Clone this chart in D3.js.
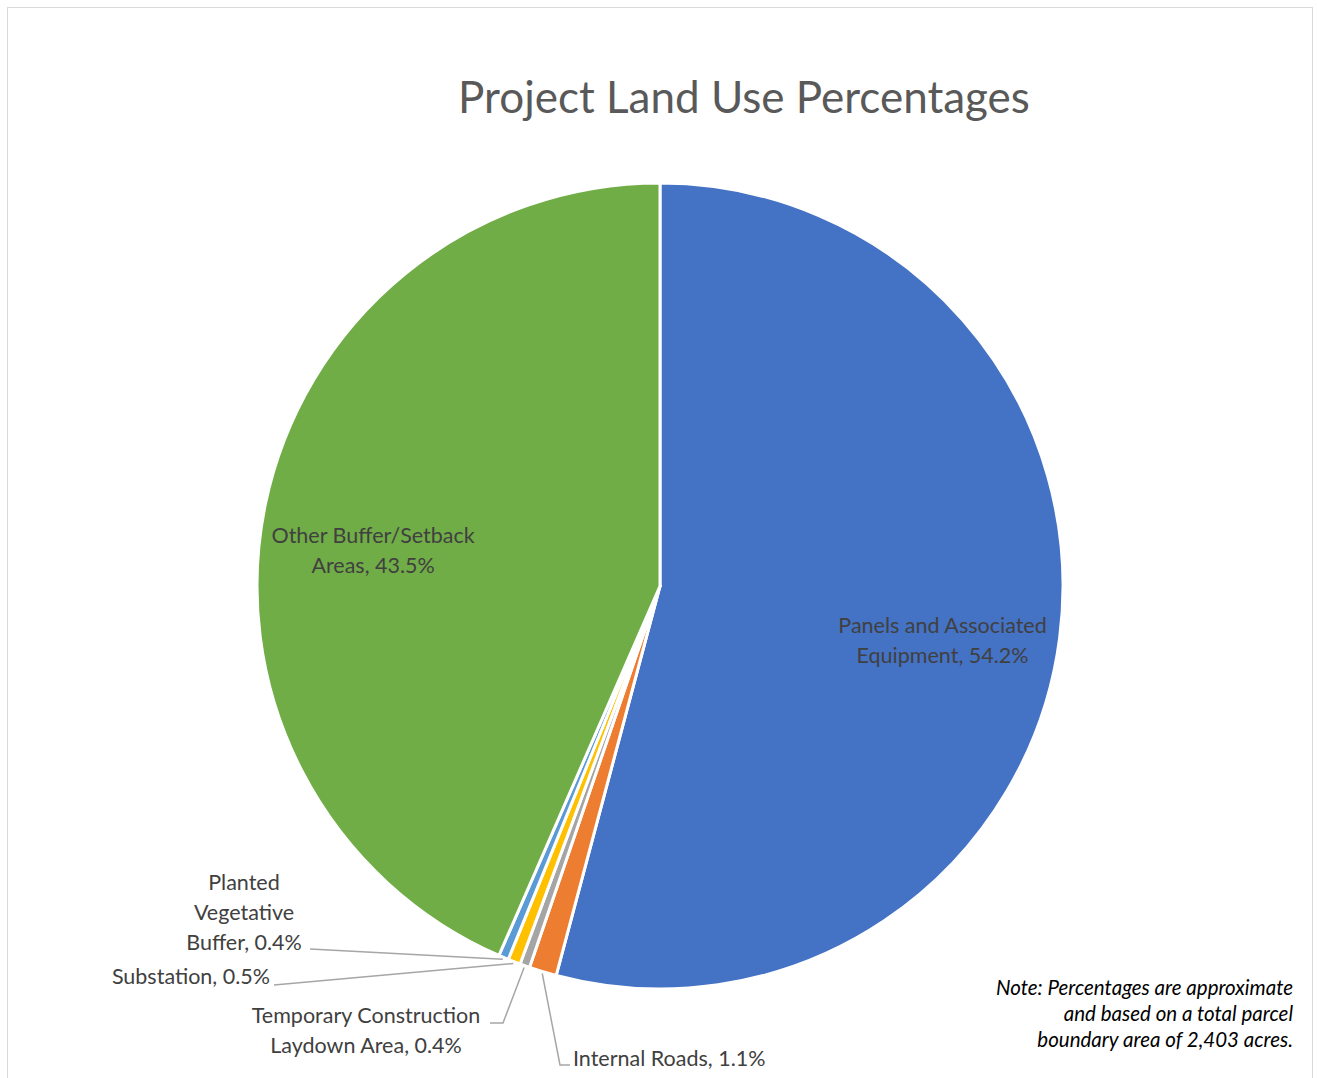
<!DOCTYPE html>
<html lang="en">
<head>
<meta charset="utf-8">
<title>Project Land Use Percentages</title>
<style>
  html, body { margin: 0; padding: 0; background: #fff; }
  text { font-family: Lato, "Open Sans", sans-serif; }
</style>
</head>
<body>
<svg width="1317" height="1078"></svg>
<script src="https://cdn.jsdelivr.net/npm/d3@7"></script>
<script>
// data
var categories = ["Panels and Associated Equipment", "Internal Roads", "Temporary Construction Laydown Area",
                  "Substation", "Planted Vegetative Buffer", "Other Buffer/Setback Areas"];
var values = [54.2, 1.1, 0.4, 0.5, 0.4, 43.5];
var labelLines = [
  ["Panels and Associated", "Equipment, 54.2%"],
  ["Internal Roads, 1.1%"],
  ["Temporary Construction", "Laydown Area, 0.4%"],
  ["Substation, 0.5%"],
  ["Planted", "Vegetative", "Buffer, 0.4%"],
  ["Other Buffer/Setback", "Areas, 43.5%"]
];
var colors = ["#4472C4", "#ED7D31", "#A5A5A5", "#FFC000", "#5B9BD5", "#70AD47"];
var noteLines = ["Note: Percentages are approximate", "and based on a total parcel", "boundary area of 2,403 acres."];

var svg = d3.select("svg"),
    cx = 660, cy = 586, radius = 403;

// chart frame
svg.append("rect")
  .attr("x", 7.5).attr("y", 7.5)
  .attr("width", 1305).attr("height", 1100)
  .attr("fill", "#fff").attr("stroke", "#D9D9D9");

svg.append("text")
  .attr("x", 744).attr("y", 113)
  .attr("text-anchor", "middle")
  .attr("font-size", 44)
  .attr("fill", "#595959")
  .text("Project Land Use Percentages");

var pie = d3.pie().sort(null).value(function(d) { return d; });
var arcs = pie(values);

var arc = d3.arc().innerRadius(0).outerRadius(radius);
var labelArc = d3.arc().innerRadius(289).outerRadius(289);
var edgeArc = d3.arc().innerRadius(radius + 2).outerRadius(radius + 2);

var g = svg.append("g").attr("transform", "translate(" + cx + "," + cy + ")");

g.selectAll("path.slice")
  .data(arcs)
  .enter().append("path")
  .attr("class", "slice")
  .attr("d", arc)
  .attr("fill", function(d, i) { return colors[i]; })
  .attr("stroke", "#fff")
  .attr("stroke-width", 3)
  .attr("stroke-linejoin", "round");

// inside labels for big slices (small nudge from centroid, like excel does)
var inside = { 0: [-4, 9], 5: [-4, 16] };
Object.keys(inside).forEach(function(key) {
  var i = +key, c = labelArc.centroid(arcs[i]);
  var t = g.append("text")
    .attr("text-anchor", "middle")
    .attr("font-size", 21.5)
    .attr("fill", "#404040");
  labelLines[i].forEach(function(s, k) {
    t.append("tspan")
      .attr("x", c[0] + inside[key][0])
      .attr("y", c[1] + inside[key][1] + k * 30)
      .text(s);
  });
});

// outside labels for small slices (page coords): text position, anchor, leader bend points
var outside = {
  1: { x: 573, y: 1066, anchor: "start", line: [[570, 1065], [560, 1065]] },
  2: { x: 366, y: 1023, anchor: "middle", line: [[490, 1023], [503, 1023]] },
  3: { x: 270, y: 984, anchor: "end", line: [[274, 985]] },
  4: { x: 244, y: 890, anchor: "middle", line: [[310, 949]] }
};

Object.keys(outside).forEach(function(key) {
  var i = +key, o = outside[key];
  var e = edgeArc.centroid(arcs[i]);
  var pts = o.line.concat([[cx + e[0], cy + e[1]]]);
  svg.append("path")
    .attr("d", d3.line()(pts))
    .attr("fill", "none")
    .attr("stroke", "#A6A6A6")
    .attr("stroke-width", 1.5);
  var t = svg.append("text")
    .attr("text-anchor", o.anchor)
    .attr("font-size", 21.5)
    .attr("fill", "#404040");
  labelLines[i].forEach(function(s, k) {
    t.append("tspan").attr("x", o.x).attr("y", o.y + k * 30).text(s);
  });
});

// note
var note = svg.append("text")
  .attr("text-anchor", "end")
  .attr("font-size", 20.5)
  .attr("font-style", "italic")
  .attr("fill", "#000");
noteLines.forEach(function(s, k) {
  note.append("tspan").attr("x", 1293).attr("y", 995 + k * 26).text(s);
});
</script>
</body>
</html>
